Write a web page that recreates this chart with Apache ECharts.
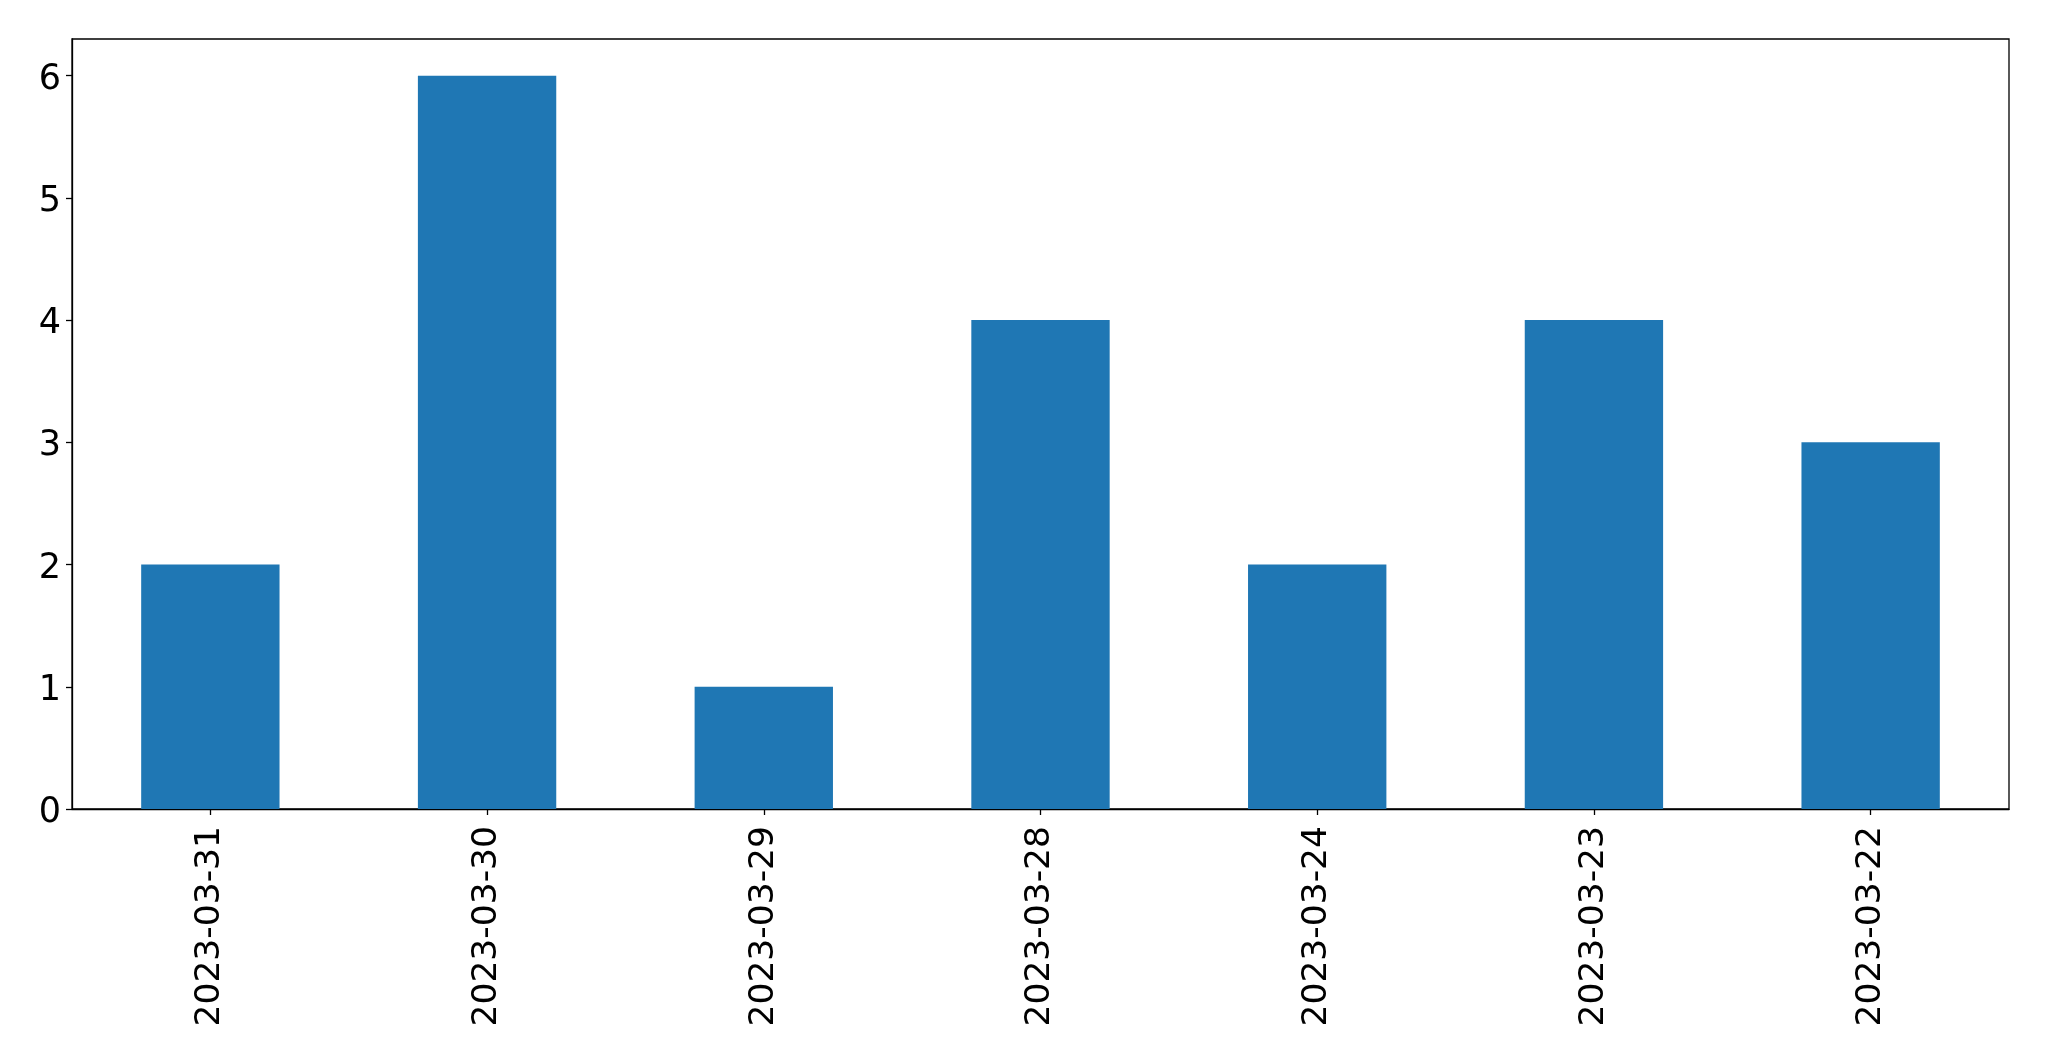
<!DOCTYPE html>
<html><head><meta charset="utf-8">
<script src="https://cdn.jsdelivr.net/npm/echarts@6/dist/echarts.min.js"></script>
<style>html,body{margin:0;padding:0;background:#fff}#c{width:2049px;height:1061px}</style>
</head><body><div id="c"></div>
<script>
const categories = ["2023-03-31","2023-03-30","2023-03-29","2023-03-28","2023-03-24","2023-03-23","2023-03-22"];
const values = [2, 6, 1, 4, 2, 4, 3];
const yTicks = [0, 1, 2, 3, 4, 5, 6];

const chart = echarts.init(document.getElementById('c'), null, {renderer: 'canvas'});
const font = "'DejaVu Sans'";
chart.setOption({
  animation: false,
  grid: {left: 72, right: 40, top: 39, bottom: 252, show: true, borderColor: '#000', borderWidth: 1.3, containLabel: false},
  xAxis: {
    type: 'category', data: categories,
    axisLine: {show: true, lineStyle: {color: '#000', width: 1.3}},
    axisTick: {show: true, alignWithLabel: true, length: 6, lineStyle: {color: '#000', width: 1.3}},
    axisLabel: {rotate: 90, margin: 17, color: '#000', fontSize: 34.5, fontFamily: font},
    splitLine: {show: false}
  },
  yAxis: {
    type: 'value', min: 0, max: 6.3, interval: 1,
    axisLine: {show: true, lineStyle: {color: '#000', width: 1.3}},
    axisTick: {show: true, length: 6, customValues: yTicks, lineStyle: {color: '#000', width: 1.3}},
    axisLabel: {margin: 11, color: '#000', fontSize: 35, fontFamily: font, customValues: yTicks,
      formatter: v => '{a|' + v + '}',
      rich: {a: {fontSize: 35, fontFamily: font, color: '#000', padding: [8, 0, 0, 0]}}},
    splitLine: {show: false}
  },
  series: [{type: 'bar', data: values, barWidth: '50%', itemStyle: {color: '#1f77b4'}}]
});
</script></body></html>
